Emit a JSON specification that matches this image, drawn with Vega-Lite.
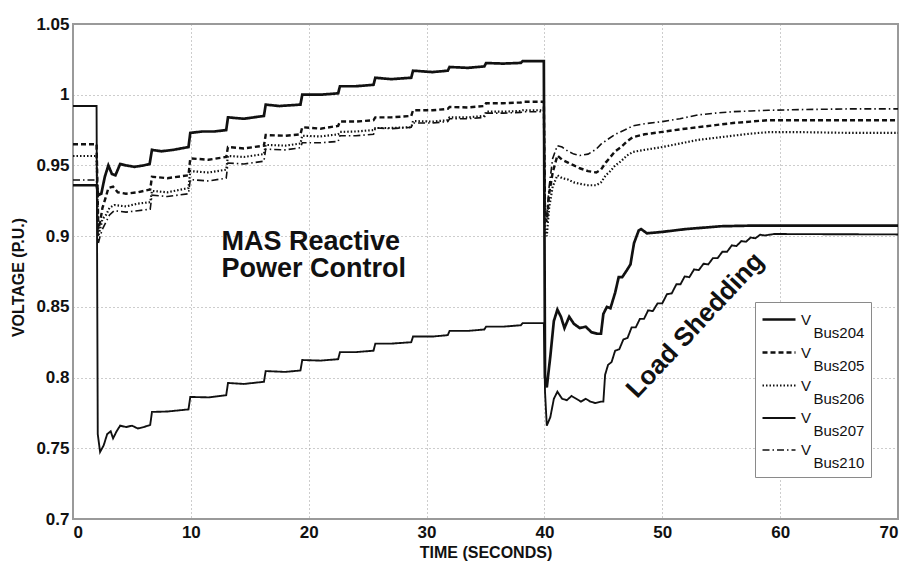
{
  "$schema": "https://vega.github.io/schema/vega-lite/v6.json",
  "width": 825,
  "height": 495,
  "autosize": "none",
  "padding": {"left": 73, "top": 24, "right": 9, "bottom": 43},
  "background": "white",
  "config": {
    "font": "Liberation Sans",
    "view": {"stroke": "#9a9a9a", "strokeWidth": 2},
    "axis": {
      "grid": true, "gridColor": "#9a9a9a", "gridDash": [1, 3], "gridWidth": 1,
      "domain": false, "ticks": false,
      "labelFont": "Liberation Sans", "labelFontWeight": "bold", "labelFontSize": 17, "labelColor": "#111",
      "titleFont": "Liberation Sans", "titleFontWeight": "bold", "titleFontSize": 16, "titleColor": "#111"
    },
    "legend": {
      "orient": "none", "legendX": 682, "legendY": 278,
      "symbolType": "M-1,0H2.3", "symbolSize": 400, "symbolStrokeColor": "#111",
      "labelFont": "Liberation Sans", "labelFontSize": 15, "labelColor": "#111", "labelOffset": 17,
      "rowPadding": -3, "padding": 6, "fillColor": "white", "strokeColor": "#8a8a8a", "cornerRadius": 0
    }
  },
  "datasets": {
    "volt": [
      {"bus":"204","t":0,"v":0.936},{"bus":"204","t":2.0,"v":0.936},{"bus":"204","t":2.15,"v":0.929},{"bus":"204","t":2.4,"v":0.93},{"bus":"204","t":2.7,"v":0.942},{"bus":"204","t":3.0,"v":0.95},{"bus":"204","t":3.3,"v":0.944},{"bus":"204","t":3.6,"v":0.943},{"bus":"204","t":4.0,"v":0.951},{"bus":"204","t":4.5,"v":0.95},{"bus":"204","t":5.2,"v":0.949},{"bus":"204","t":6.0,"v":0.95},{"bus":"204","t":6.5,"v":0.951},{"bus":"204","t":6.7,"v":0.961},{"bus":"204","t":7.5,"v":0.96},{"bus":"204","t":8.5,"v":0.961},{"bus":"204","t":9.8,"v":0.963},{"bus":"204","t":9.95,"v":0.973},{"bus":"204","t":11,"v":0.974},{"bus":"204","t":12,"v":0.974},{"bus":"204","t":13.0,"v":0.975},{"bus":"204","t":13.15,"v":0.984},{"bus":"204","t":14.5,"v":0.983},{"bus":"204","t":16.2,"v":0.985},{"bus":"204","t":16.35,"v":0.993},{"bus":"204","t":17.5,"v":0.992},{"bus":"204","t":19.3,"v":0.993},{"bus":"204","t":19.45,"v":1.0},{"bus":"204","t":21,"v":1.0},{"bus":"204","t":22.5,"v":1.001},{"bus":"204","t":22.65,"v":1.006},{"bus":"204","t":24,"v":1.006},{"bus":"204","t":25.5,"v":1.007},{"bus":"204","t":25.65,"v":1.012},{"bus":"204","t":27,"v":1.011},{"bus":"204","t":28.7,"v":1.012},{"bus":"204","t":28.85,"v":1.017},{"bus":"204","t":30.5,"v":1.016},{"bus":"204","t":31.8,"v":1.017},{"bus":"204","t":31.95,"v":1.0196},{"bus":"204","t":33.5,"v":1.019},{"bus":"204","t":34.9,"v":1.02},{"bus":"204","t":35.05,"v":1.0224},{"bus":"204","t":36.5,"v":1.022},{"bus":"204","t":38.0,"v":1.0225},{"bus":"204","t":38.15,"v":1.0238},{"bus":"204","t":39.95,"v":1.0238},{"bus":"204","t":40.05,"v":0.8},{"bus":"204","t":40.2,"v":0.793},{"bus":"204","t":40.5,"v":0.815},{"bus":"204","t":40.8,"v":0.84},{"bus":"204","t":41.1,"v":0.848},{"bus":"204","t":41.4,"v":0.843},{"bus":"204","t":41.7,"v":0.835},{"bus":"204","t":42.1,"v":0.843},{"bus":"204","t":42.5,"v":0.838},{"bus":"204","t":43.0,"v":0.835},{"bus":"204","t":43.5,"v":0.836},{"bus":"204","t":44.0,"v":0.832},{"bus":"204","t":44.5,"v":0.831},{"bus":"204","t":44.8,"v":0.831},{"bus":"204","t":45.0,"v":0.845},{"bus":"204","t":45.3,"v":0.85},{"bus":"204","t":45.6,"v":0.849},{"bus":"204","t":46.0,"v":0.86},{"bus":"204","t":46.3,"v":0.871},{"bus":"204","t":46.6,"v":0.871},{"bus":"204","t":47.0,"v":0.876},{"bus":"204","t":47.3,"v":0.88},{"bus":"204","t":47.6,"v":0.895},{"bus":"204","t":48.0,"v":0.904},{"bus":"204","t":48.2,"v":0.905},{"bus":"204","t":48.7,"v":0.902},{"bus":"204","t":50,"v":0.903},{"bus":"204","t":52,"v":0.905},{"bus":"204","t":55,"v":0.907},{"bus":"204","t":58,"v":0.9075},{"bus":"204","t":70,"v":0.9075},

      {"bus":"207","t":0,"v":0.992},{"bus":"207","t":2.0,"v":0.992},{"bus":"207","t":2.1,"v":0.76},{"bus":"207","t":2.3,"v":0.7474},{"bus":"207","t":2.6,"v":0.752},{"bus":"207","t":2.9,"v":0.76},{"bus":"207","t":3.2,"v":0.762},{"bus":"207","t":3.4,"v":0.757},{"bus":"207","t":3.7,"v":0.762},{"bus":"207","t":4.0,"v":0.766},{"bus":"207","t":4.5,"v":0.765},{"bus":"207","t":5.0,"v":0.766},{"bus":"207","t":5.5,"v":0.764},{"bus":"207","t":6.0,"v":0.765},{"bus":"207","t":6.55,"v":0.7665},{"bus":"207","t":6.7,"v":0.7757},{"bus":"207","t":8,"v":0.776},{"bus":"207","t":9.8,"v":0.7775},{"bus":"207","t":9.95,"v":0.7863},{"bus":"207","t":11.5,"v":0.786},{"bus":"207","t":13.0,"v":0.7875},{"bus":"207","t":13.15,"v":0.7962},{"bus":"207","t":14.5,"v":0.7955},{"bus":"207","t":16.2,"v":0.797},{"bus":"207","t":16.35,"v":0.8046},{"bus":"207","t":18,"v":0.804},{"bus":"207","t":19.3,"v":0.805},{"bus":"207","t":19.45,"v":0.8124},{"bus":"207","t":21,"v":0.812},{"bus":"207","t":22.5,"v":0.813},{"bus":"207","t":22.65,"v":0.818},{"bus":"207","t":24,"v":0.818},{"bus":"207","t":25.5,"v":0.819},{"bus":"207","t":25.65,"v":0.824},{"bus":"207","t":27,"v":0.824},{"bus":"207","t":28.7,"v":0.825},{"bus":"207","t":28.85,"v":0.829},{"bus":"207","t":30.5,"v":0.829},{"bus":"207","t":31.8,"v":0.83},{"bus":"207","t":31.95,"v":0.833},{"bus":"207","t":33.5,"v":0.833},{"bus":"207","t":34.9,"v":0.834},{"bus":"207","t":35.05,"v":0.836},{"bus":"207","t":36.5,"v":0.836},{"bus":"207","t":38.0,"v":0.837},{"bus":"207","t":38.15,"v":0.8385},{"bus":"207","t":39.95,"v":0.8385},{"bus":"207","t":40.05,"v":0.79},{"bus":"207","t":40.2,"v":0.766},{"bus":"207","t":40.5,"v":0.772},{"bus":"207","t":40.8,"v":0.785},{"bus":"207","t":41.1,"v":0.79},{"bus":"207","t":41.5,"v":0.785},{"bus":"207","t":41.9,"v":0.784},{"bus":"207","t":42.3,"v":0.787},{"bus":"207","t":42.7,"v":0.785},{"bus":"207","t":43.1,"v":0.783},{"bus":"207","t":43.5,"v":0.785},{"bus":"207","t":43.9,"v":0.783},{"bus":"207","t":44.3,"v":0.782},{"bus":"207","t":44.8,"v":0.783},{"bus":"207","t":45.0,"v":0.783},{"bus":"207","t":45.15,"v":0.802},{"bus":"207","t":45.4,"v":0.809},{"bus":"207","t":45.7,"v":0.811},{"bus":"207","t":46.0,"v":0.819},{"bus":"207","t":46.35,"v":0.82},{"bus":"207","t":46.7,"v":0.827},{"bus":"207","t":47.05,"v":0.828},{"bus":"207","t":47.4,"v":0.8355},{"bus":"207","t":47.75,"v":0.8355},{"bus":"207","t":48.1,"v":0.8415},{"bus":"207","t":48.45,"v":0.8415},{"bus":"207","t":48.8,"v":0.8475},{"bus":"207","t":49.2,"v":0.847},{"bus":"207","t":49.6,"v":0.8525},{"bus":"207","t":50.0,"v":0.8525},{"bus":"207","t":50.4,"v":0.859},{"bus":"207","t":50.8,"v":0.8595},{"bus":"207","t":51.2,"v":0.866},{"bus":"207","t":51.55,"v":0.866},{"bus":"207","t":51.9,"v":0.8715},{"bus":"207","t":52.3,"v":0.871},{"bus":"207","t":52.7,"v":0.8765},{"bus":"207","t":53.1,"v":0.876},{"bus":"207","t":53.5,"v":0.8805},{"bus":"207","t":53.9,"v":0.88},{"bus":"207","t":54.3,"v":0.8845},{"bus":"207","t":54.7,"v":0.8845},{"bus":"207","t":55.1,"v":0.889},{"bus":"207","t":55.5,"v":0.889},{"bus":"207","t":55.9,"v":0.8935},{"bus":"207","t":56.3,"v":0.893},{"bus":"207","t":56.7,"v":0.8965},{"bus":"207","t":57.1,"v":0.896},{"bus":"207","t":57.5,"v":0.899},{"bus":"207","t":57.9,"v":0.8985},{"bus":"207","t":58.3,"v":0.901},{"bus":"207","t":58.7,"v":0.9005},{"bus":"207","t":59.5,"v":0.9015},{"bus":"207","t":70,"v":0.9012},

      {"bus":"205","t":0,"v":0.965},{"bus":"205","t":2.0,"v":0.965},{"bus":"205","t":2.15,"v":0.905},{"bus":"205","t":2.3,"v":0.91},{"bus":"205","t":2.5,"v":0.92},{"bus":"205","t":2.8,"v":0.928},{"bus":"205","t":3.0,"v":0.934},{"bus":"205","t":3.4,"v":0.935},{"bus":"205","t":3.8,"v":0.931},{"bus":"205","t":4.5,"v":0.93},{"bus":"205","t":5.5,"v":0.931},{"bus":"205","t":6.55,"v":0.933},{"bus":"205","t":6.7,"v":0.942},{"bus":"205","t":8,"v":0.941},{"bus":"205","t":9.8,"v":0.943},{"bus":"205","t":9.95,"v":0.955},{"bus":"205","t":11.5,"v":0.954},{"bus":"205","t":13.0,"v":0.956},{"bus":"205","t":13.15,"v":0.963},{"bus":"205","t":14.5,"v":0.962},{"bus":"205","t":16.2,"v":0.964},{"bus":"205","t":16.35,"v":0.9715},{"bus":"205","t":18,"v":0.971},{"bus":"205","t":19.3,"v":0.972},{"bus":"205","t":19.45,"v":0.977},{"bus":"205","t":21,"v":0.976},{"bus":"205","t":22.5,"v":0.978},{"bus":"205","t":22.65,"v":0.981},{"bus":"205","t":24,"v":0.981},{"bus":"205","t":25.5,"v":0.982},{"bus":"205","t":25.65,"v":0.984},{"bus":"205","t":27,"v":0.984},{"bus":"205","t":28.7,"v":0.985},{"bus":"205","t":28.85,"v":0.989},{"bus":"205","t":30.5,"v":0.989},{"bus":"205","t":31.8,"v":0.99},{"bus":"205","t":31.95,"v":0.9913},{"bus":"205","t":33.5,"v":0.991},{"bus":"205","t":34.9,"v":0.992},{"bus":"205","t":35.05,"v":0.994},{"bus":"205","t":36.5,"v":0.994},{"bus":"205","t":38.0,"v":0.9945},{"bus":"205","t":38.15,"v":0.995},{"bus":"205","t":39.95,"v":0.995},{"bus":"205","t":40.05,"v":0.915},{"bus":"205","t":40.2,"v":0.91},{"bus":"205","t":40.4,"v":0.93},{"bus":"205","t":40.7,"v":0.945},{"bus":"205","t":41.1,"v":0.957},{"bus":"205","t":41.5,"v":0.954},{"bus":"205","t":42.0,"v":0.952},{"bus":"205","t":42.5,"v":0.95},{"bus":"205","t":43.0,"v":0.948},{"bus":"205","t":43.7,"v":0.946},{"bus":"205","t":44.4,"v":0.945},{"bus":"205","t":44.8,"v":0.947},{"bus":"205","t":45.2,"v":0.952},{"bus":"205","t":45.6,"v":0.956},{"bus":"205","t":46.0,"v":0.96},{"bus":"205","t":46.5,"v":0.963},{"bus":"205","t":47.0,"v":0.967},{"bus":"205","t":47.5,"v":0.97},{"bus":"205","t":48.5,"v":0.972},{"bus":"205","t":50,"v":0.9737},{"bus":"205","t":51.5,"v":0.9755},{"bus":"205","t":53,"v":0.977},{"bus":"205","t":54.5,"v":0.9785},{"bus":"205","t":56,"v":0.98},{"bus":"205","t":57.5,"v":0.981},{"bus":"205","t":59,"v":0.982},{"bus":"205","t":62,"v":0.982},{"bus":"205","t":66,"v":0.982},{"bus":"205","t":70,"v":0.982},

      {"bus":"206","t":0,"v":0.9567},{"bus":"206","t":2.0,"v":0.9567},{"bus":"206","t":2.15,"v":0.9},{"bus":"206","t":2.3,"v":0.905},{"bus":"206","t":2.5,"v":0.912},{"bus":"206","t":2.8,"v":0.915},{"bus":"206","t":3.1,"v":0.92},{"bus":"206","t":3.5,"v":0.922},{"bus":"206","t":4.5,"v":0.921},{"bus":"206","t":5.5,"v":0.923},{"bus":"206","t":6.55,"v":0.924},{"bus":"206","t":6.7,"v":0.932},{"bus":"206","t":8,"v":0.931},{"bus":"206","t":9.8,"v":0.934},{"bus":"206","t":9.95,"v":0.946},{"bus":"206","t":11.5,"v":0.945},{"bus":"206","t":13.0,"v":0.947},{"bus":"206","t":13.15,"v":0.9567},{"bus":"206","t":14.5,"v":0.956},{"bus":"206","t":16.2,"v":0.958},{"bus":"206","t":16.35,"v":0.9645},{"bus":"206","t":18,"v":0.964},{"bus":"206","t":19.3,"v":0.9655},{"bus":"206","t":19.45,"v":0.971},{"bus":"206","t":21,"v":0.9705},{"bus":"206","t":22.5,"v":0.972},{"bus":"206","t":22.65,"v":0.9737},{"bus":"206","t":24,"v":0.974},{"bus":"206","t":25.5,"v":0.975},{"bus":"206","t":25.65,"v":0.9765},{"bus":"206","t":27,"v":0.9765},{"bus":"206","t":28.7,"v":0.977},{"bus":"206","t":28.85,"v":0.9814},{"bus":"206","t":30.5,"v":0.981},{"bus":"206","t":31.8,"v":0.982},{"bus":"206","t":31.95,"v":0.984},{"bus":"206","t":33.5,"v":0.984},{"bus":"206","t":34.9,"v":0.985},{"bus":"206","t":35.05,"v":0.988},{"bus":"206","t":36.5,"v":0.988},{"bus":"206","t":38.0,"v":0.9885},{"bus":"206","t":38.15,"v":0.989},{"bus":"206","t":39.95,"v":0.989},{"bus":"206","t":40.05,"v":0.905},{"bus":"206","t":40.2,"v":0.9},{"bus":"206","t":40.4,"v":0.92},{"bus":"206","t":40.7,"v":0.935},{"bus":"206","t":41.1,"v":0.943},{"bus":"206","t":41.5,"v":0.941},{"bus":"206","t":42.0,"v":0.94},{"bus":"206","t":42.5,"v":0.938},{"bus":"206","t":43.0,"v":0.937},{"bus":"206","t":43.7,"v":0.936},{"bus":"206","t":44.4,"v":0.936},{"bus":"206","t":44.8,"v":0.938},{"bus":"206","t":45.2,"v":0.943},{"bus":"206","t":45.6,"v":0.946},{"bus":"206","t":46.0,"v":0.95},{"bus":"206","t":46.5,"v":0.953},{"bus":"206","t":47.0,"v":0.957},{"bus":"206","t":47.5,"v":0.9595},{"bus":"206","t":48.5,"v":0.961},{"bus":"206","t":50,"v":0.963},{"bus":"206","t":51.5,"v":0.9655},{"bus":"206","t":53,"v":0.968},{"bus":"206","t":54.5,"v":0.9695},{"bus":"206","t":56,"v":0.971},{"bus":"206","t":57.5,"v":0.9725},{"bus":"206","t":59,"v":0.9735},{"bus":"206","t":62,"v":0.9735},{"bus":"206","t":66,"v":0.973},{"bus":"206","t":70,"v":0.973},

      {"bus":"210","t":0,"v":0.9397},{"bus":"210","t":2.0,"v":0.9397},{"bus":"210","t":2.15,"v":0.895},{"bus":"210","t":2.3,"v":0.9},{"bus":"210","t":2.5,"v":0.905},{"bus":"210","t":2.8,"v":0.91},{"bus":"210","t":3.1,"v":0.915},{"bus":"210","t":3.5,"v":0.918},{"bus":"210","t":4.5,"v":0.917},{"bus":"210","t":5.5,"v":0.918},{"bus":"210","t":6.55,"v":0.919},{"bus":"210","t":6.7,"v":0.929},{"bus":"210","t":8,"v":0.928},{"bus":"210","t":9.8,"v":0.93},{"bus":"210","t":9.95,"v":0.94},{"bus":"210","t":11.5,"v":0.939},{"bus":"210","t":13.0,"v":0.941},{"bus":"210","t":13.15,"v":0.9517},{"bus":"210","t":14.5,"v":0.951},{"bus":"210","t":16.2,"v":0.953},{"bus":"210","t":16.35,"v":0.9615},{"bus":"210","t":18,"v":0.961},{"bus":"210","t":19.3,"v":0.9625},{"bus":"210","t":19.45,"v":0.966},{"bus":"210","t":21,"v":0.966},{"bus":"210","t":22.5,"v":0.967},{"bus":"210","t":22.65,"v":0.971},{"bus":"210","t":24,"v":0.971},{"bus":"210","t":25.5,"v":0.972},{"bus":"210","t":25.65,"v":0.9765},{"bus":"210","t":27,"v":0.976},{"bus":"210","t":28.7,"v":0.977},{"bus":"210","t":28.85,"v":0.98},{"bus":"210","t":30.5,"v":0.98},{"bus":"210","t":31.8,"v":0.981},{"bus":"210","t":31.95,"v":0.983},{"bus":"210","t":33.5,"v":0.983},{"bus":"210","t":34.9,"v":0.984},{"bus":"210","t":35.05,"v":0.987},{"bus":"210","t":36.5,"v":0.987},{"bus":"210","t":38.0,"v":0.9875},{"bus":"210","t":38.15,"v":0.988},{"bus":"210","t":39.95,"v":0.988},{"bus":"210","t":40.05,"v":0.92},{"bus":"210","t":40.2,"v":0.915},{"bus":"210","t":40.4,"v":0.935},{"bus":"210","t":40.7,"v":0.955},{"bus":"210","t":41.1,"v":0.964},{"bus":"210","t":41.5,"v":0.963},{"bus":"210","t":42.0,"v":0.96},{"bus":"210","t":42.5,"v":0.958},{"bus":"210","t":43.0,"v":0.957},{"bus":"210","t":43.7,"v":0.958},{"bus":"210","t":44.4,"v":0.9615},{"bus":"210","t":44.8,"v":0.965},{"bus":"210","t":45.3,"v":0.968},{"bus":"210","t":46.0,"v":0.972},{"bus":"210","t":46.8,"v":0.975},{"bus":"210","t":47.5,"v":0.978},{"bus":"210","t":48.5,"v":0.9795},{"bus":"210","t":50,"v":0.981},{"bus":"210","t":51.5,"v":0.983},{"bus":"210","t":53,"v":0.9857},{"bus":"210","t":54.5,"v":0.987},{"bus":"210","t":56,"v":0.988},{"bus":"210","t":57.5,"v":0.9885},{"bus":"210","t":59,"v":0.989},{"bus":"210","t":62,"v":0.9895},{"bus":"210","t":66,"v":0.99},{"bus":"210","t":70,"v":0.99}
    ]
  },
  "layer": [
    {
      "data": {"name": "volt"},
      "mark": {"type": "line", "color": "#111", "strokeJoin": "miter"},
      "encoding": {
        "x": {"field": "t", "type": "quantitative", "scale": {"domain": [0, 70], "nice": false},
              "axis": {"values": [0, 10, 20, 30, 40, 50, 60, 70], "title": "TIME (SECONDS)", "labelPadding": 5, "titleY": 38, "titleBaseline": "alphabetic"}},
        "y": {"field": "v", "type": "quantitative", "scale": {"domain": [0.7, 1.05], "nice": false, "zero": false},
              "axis": {"values": [0.7, 0.75, 0.8, 0.85, 0.9, 0.95, 1, 1.05], "format": "~g", "title": "VOLTAGE (P.U.)", "labelPadding": 4, "titleX": -55, "titleY": 253, "titleBaseline": "middle"}},
        "strokeDash": {"field": "bus", "type": "nominal",
              "scale": {"domain": ["204", "205", "206", "207", "210"], "range": [[1, 0], [5, 3], [1.5, 2], [1, 0], [7, 3, 1.5, 3]]},
              "legend": {"title": null, "labelExpr": "['V', '\u200b\u00a0\u00a0\u00a0Bus' + datum.label]",
                         "encode": {"labels": {"update": {"lineHeight": {"value": 13}}}}}},
        "strokeWidth": {"field": "bus", "type": "ordinal",
              "scale": {"domain": ["204", "205", "206", "207", "210"], "range": [2.7, 1.6, 1.6, 2.3, 1.6]},
              "legend": {"title": null, "labelExpr": "['V', '\u200b\u00a0\u00a0\u00a0Bus' + datum.label]",
                         "encode": {"labels": {"update": {"lineHeight": {"value": 13}}}}}}
      }
    },
    {
      "data": {"values": [{}]},
      "mark": {"type": "text", "align": "left", "baseline": "alphabetic", "fontSize": 27, "fontWeight": "bold", "font": "Liberation Sans", "lineHeight": 27, "color": "#111"},
      "encoding": {"x": {"datum": 12.6}, "y": {"datum": 0.8902}, "text": {"value": ["MAS Reactive", "Power Control"]}}
    },
    {
      "data": {"values": [{}]},
      "mark": {"type": "text", "align": "center", "baseline": "middle", "angle": -47, "fontSize": 26, "fontWeight": "bold", "font": "Liberation Sans", "color": "#111"},
      "encoding": {"x": {"datum": 52.8}, "y": {"datum": 0.837}, "text": {"value": "Load Shedding"}}
    }
  ]
}
